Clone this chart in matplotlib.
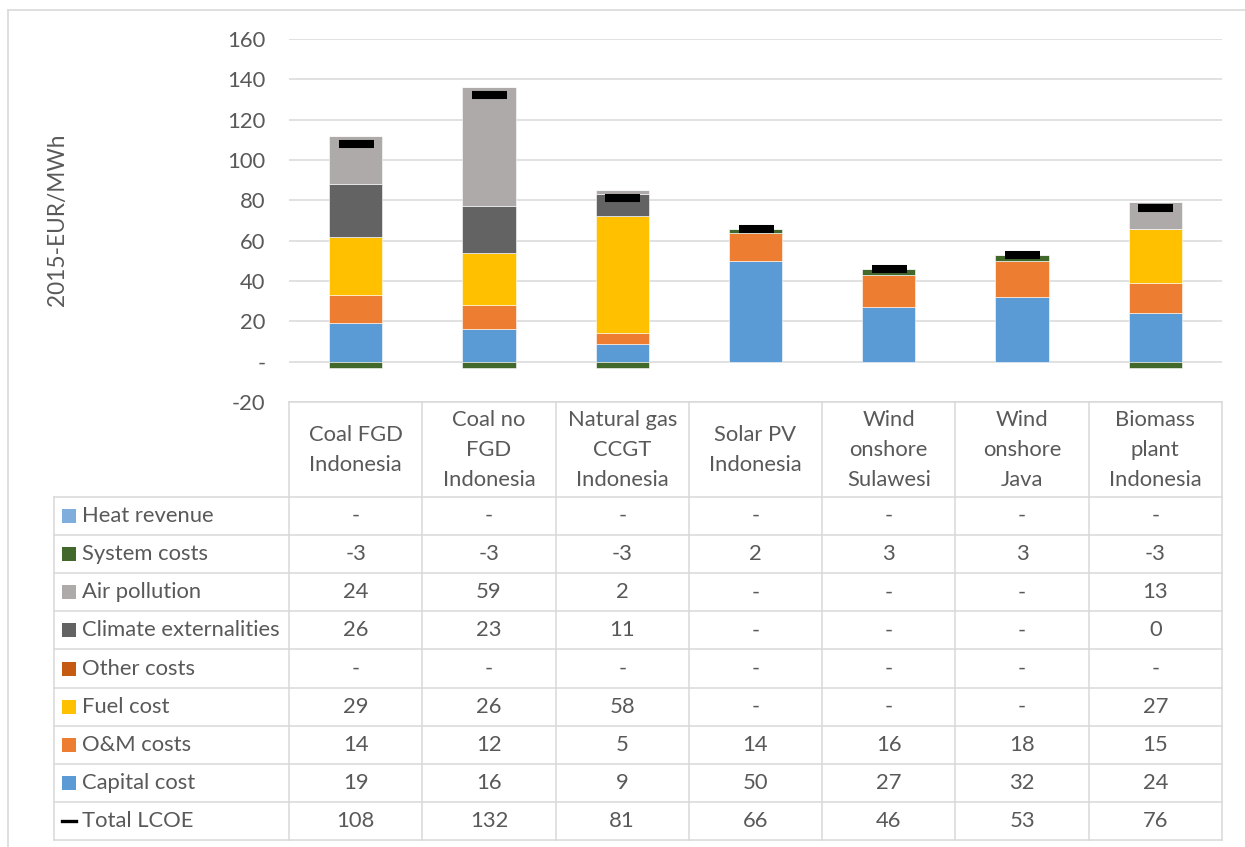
import matplotlib
matplotlib.use("Agg")
import matplotlib.pyplot as plt
from matplotlib.lines import Line2D
from matplotlib.patches import Rectangle

plt.rcParams['font.family'] = ['Lato', 'DejaVu Sans']

W, H = 1245, 847
categories = ["Coal FGD\nIndonesia", "Coal no\nFGD\nIndonesia", "Natural gas\nCCGT\nIndonesia",
              "Solar PV\nIndonesia", "Wind\nonshore\nSulawesi", "Wind\nonshore\nJava",
              "Biomass\nplant\nIndonesia"]

# None = shown as '-'
heat_revenue   = [None, None, None, None, None, None, None]
system_costs   = [-3, -3, -3, 2, 3, 3, -3]
air_pollution  = [24, 59, 2, None, None, None, 13]
climate_ext    = [26, 23, 11, None, None, None, 0]
other_costs    = [None, None, None, None, None, None, None]
fuel_cost      = [29, 26, 58, None, None, None, 27]
om_costs       = [14, 12, 5, 14, 16, 18, 15]
capital_cost   = [19, 16, 9, 50, 27, 32, 24]
total_lcoe     = [108, 132, 81, 66, 46, 53, 76]

# stacking order bottom -> top
stack_series = [
    ("Capital cost", capital_cost, "#5B9BD5"),
    ("O&M costs", om_costs, "#ED7D31"),
    ("Fuel cost", fuel_cost, "#FFC000"),
    ("Other costs", other_costs, "#C55A11"),
    ("Climate externalities", climate_ext, "#636363"),
    ("Air pollution", air_pollution, "#AEAAAA"),
    ("System costs", system_costs, "#43682B"),
    ("Heat revenue", heat_revenue, "#7FAEDD"),
]
# table order top -> bottom
table_rows = [
    ("Heat revenue", heat_revenue, "#7FAEDD"),
    ("System costs", system_costs, "#43682B"),
    ("Air pollution", air_pollution, "#AEAAAA"),
    ("Climate externalities", climate_ext, "#636363"),
    ("Other costs", other_costs, "#C55A11"),
    ("Fuel cost", fuel_cost, "#FFC000"),
    ("O&M costs", om_costs, "#ED7D31"),
    ("Capital cost", capital_cost, "#5B9BD5"),
    ("Total LCOE", total_lcoe, "#000000"),
]

yticks = [-20, 0, 20, 40, 60, 80, 100, 120, 140, 160]
ytick_labels = ["-20", "-", "20", "40", "60", "80", "100", "120", "140", "160"]

TXT = "#595959"
GRID = "#D9D9D9"
FS = 15.8

fig = plt.figure(figsize=(W / 100, H / 100), dpi=100)

def fx(x):
    return x / W

def fy(y):
    return 1 - y / H

# plot area (pixel coords)
L, R, T, B = 289, 1222, 39, 402
ax = fig.add_axes([fx(L), fy(B), fx(R) - fx(L), fy(T) - fy(B)])
ax.set_xlim(-0.5, len(categories) - 0.5)
ax.set_ylim(-20, 160)
for s in ax.spines.values():
    s.set_visible(False)
ax.set_yticks(yticks)
ax.set_yticklabels(ytick_labels, color=TXT, fontsize=FS)
ax.tick_params(axis='y', length=0, pad=17)
ax.set_xticks([])
ax.yaxis.grid(True, color=GRID, linewidth=1.1)
ax.set_axisbelow(True)

n = len(categories)
xs = list(range(n))
pos_base = [0.0] * n
neg_base = [0.0] * n
for name, vals, col in stack_series:
    v = [0 if a is None else a for a in vals]
    bottoms = [pos_base[i] if v[i] >= 0 else neg_base[i] for i in range(n)]
    ax.bar(xs, v, width=0.4, bottom=bottoms, color=col, edgecolor="white",
           linewidth=0.4, zorder=2)
    for i in range(n):
        if v[i] >= 0:
            pos_base[i] += v[i]
        else:
            neg_base[i] += v[i]

ax.plot(xs, total_lcoe, linestyle="none", marker="_", markersize=25.2,
        markeredgewidth=5.8, color="black", zorder=3)

fig.text(fx(58), fy(220), "2015-EUR/MWh", rotation=90, ha="center", va="center",
         color=TXT, fontsize=FS + 0.5)

# outer chart border
fig.add_artist(Line2D([fx(8), fx(1245)], [fy(10), fy(10)], color=GRID, lw=1.2))
fig.add_artist(Line2D([fx(8), fx(8)], [fy(10), fy(847)], color=GRID, lw=1.2))

# data table
colw = (R - L) / n
col_edges = [L + i * colw for i in range(n + 1)]
head_top, head_bot = 402, 497
tab_left, tab_bot = 54, 840
rowh = (tab_bot - head_bot) / len(table_rows)

def hline(x0, x1, y):
    fig.add_artist(Line2D([fx(x0), fx(x1)], [fy(y), fy(y)], color=GRID, lw=1.1))

def vline(x, y0, y1):
    fig.add_artist(Line2D([fx(x), fx(x)], [fy(y0), fy(y1)], color=GRID, lw=1.1))

hline(L, R, head_top)
for x in col_edges:
    vline(x, head_top, tab_bot)
vline(tab_left, head_bot, tab_bot)
for r in range(len(table_rows) + 1):
    hline(tab_left, R, head_bot + r * rowh)

for i, c in enumerate(categories):
    fig.text(fx(L + (i + 0.5) * colw), fy((head_top + head_bot) / 2 + 0.5), c,
             ha="center", va="center", color=TXT, fontsize=FS, linespacing=1.6)

for r, (name, vals, col) in enumerate(table_rows):
    yc = head_bot + (r + 0.5) * rowh
    if name == "Total LCOE":
        fig.add_artist(Line2D([fx(62), fx(76)], [fy(yc), fy(yc)], color="black", lw=2.4))
    else:
        fig.add_artist(Rectangle((fx(62), fy(yc + 7)), fx(14), 14 / H,
                                 facecolor=col, edgecolor="none"))
    fig.text(fx(82), fy(yc), name, ha="left", va="center", color=TXT, fontsize=FS)
    for i, v in enumerate(vals):
        s = "-" if v is None else str(v)
        fig.text(fx(L + (i + 0.5) * colw), fy(yc), s, ha="center", va="center",
                 color=TXT, fontsize=FS)

fig.savefig("out.png", dpi=100)
